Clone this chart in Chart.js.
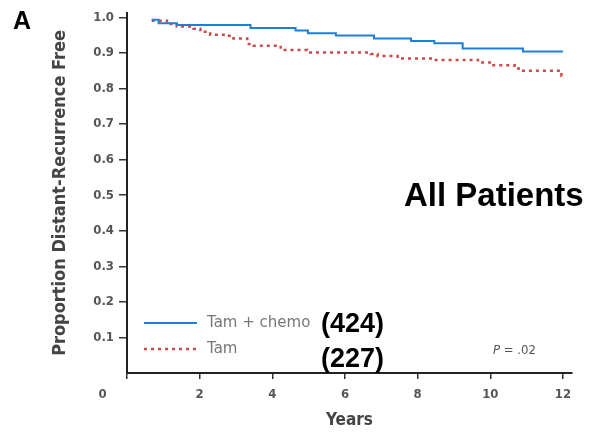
<!DOCTYPE html>
<html>
<head>
<meta charset="utf-8">
<script src="https://cdn.jsdelivr.net/npm/chart.js@4"></script>
<style>
  body { margin: 0; background: #fff; }
  #wrap { position: relative; width: 593px; height: 433px; }
  .note { position: absolute; font-family: "Liberation Sans", Arial, sans-serif; font-weight: bold; color: #000; white-space: nowrap; line-height: 1; }
</style>
</head>
<body>
<div id="wrap">
  <canvas id="km" width="593" height="433"></canvas>
  <div class="note" style="left:13px;top:8px;font-size:25px;">A</div>
  <div class="note" style="left:404px;top:178px;font-size:33px;">All Patients</div>
  <div class="note" style="left:321px;top:310px;font-size:27px;">(424)</div>
  <div class="note" style="left:321px;top:345px;font-size:27px;">(227)</div>
  <div class="note" style="left:493px;top:343px;font-size:13px;font-weight:normal;color:#555;font-family:'DejaVu Sans Condensed',sans-serif;"><i>P</i> = .02</div>
</div>
<script>
// Kaplan-Meier steps (years, proportion)
const chemoYears = [0.68, 0.87, 1.37, 3.40, 4.64, 4.98, 5.75, 6.80, 7.82, 8.46, 9.24, 10.90, 12.0];
const chemoFree  = [0.993, 0.983, 0.978, 0.970, 0.963, 0.955, 0.949, 0.940, 0.933, 0.927, 0.912, 0.904, 0.904];

const tamYears = [0.68, 1.10, 1.37, 1.83, 2.02, 2.29, 2.75, 2.93, 3.31, 3.49, 4.23, 4.96, 6.71, 6.90, 7.45, 8.46, 9.66, 10.03, 10.67, 10.85, 11.96, 12.0];
const tamFree  = [0.990, 0.981, 0.974, 0.968, 0.959, 0.951, 0.948, 0.940, 0.925, 0.920, 0.908, 0.901, 0.897, 0.891, 0.884, 0.880, 0.873, 0.865, 0.856, 0.850, 0.835, 0.835];

const xTicks = [0, 2, 4, 6, 8, 10, 12];
const yTicks = [0.1, 0.2, 0.3, 0.4, 0.5, 0.6, 0.7, 0.8, 0.9, 1.0];

const seriesNames = ['Tam + chemo', 'Tam'];

const toPts = (xs, ys) => xs.map((x, i) => ({x: x, y: ys[i]}));

const condensed = "'DejaVu Sans Condensed', 'Liberation Sans Narrow', sans-serif";

// legend drawn inside the plot, bottom left
const insideLegend = {
  id: 'insideLegend',
  afterDraw(chart) {
    const ctx = chart.ctx;
    const rows = [323, 349];
    ctx.save();
    chart.data.datasets.forEach((ds, i) => {
      const y = rows[i];
      ctx.beginPath();
      ctx.strokeStyle = ds.borderColor;
      ctx.lineWidth = ds.borderWidth;
      ctx.setLineDash(ds.borderDash || []);
      ctx.moveTo(144, y);
      ctx.lineTo(197, y);
      ctx.stroke();
      ctx.setLineDash([]);
      ctx.fillStyle = '#777';
      ctx.font = "15px 'DejaVu Sans', sans-serif";
      ctx.textBaseline = 'middle';
      ctx.fillText(ds.label, 207, y);
    });
    ctx.restore();
  }
};

new Chart(document.getElementById('km'), {
  type: 'line',
  data: {
    datasets: [
      {
        label: seriesNames[0],
        data: toPts(chemoYears, chemoFree),
        borderColor: '#1f7fd6',
        borderWidth: 2,
        stepped: true,
        pointRadius: 0,
        fill: false
      },
      {
        label: seriesNames[1],
        data: toPts(tamYears, tamFree),
        borderColor: '#cc4a4a',
        borderWidth: 2.5,
        borderDash: [3, 4],
        stepped: true,
        pointRadius: 0,
        fill: false
      }
    ]
  },
  options: {
    responsive: false,
    animation: false,
    layout: { padding: { top: 13, right: 21, left: 0, bottom: 0 } },
    plugins: { legend: { display: false }, tooltip: { enabled: false } },
    scales: {
      x: {
        type: 'linear',
        min: 0,
        max: 12.25,
        afterBuildTicks: s => { s.ticks = xTicks.map(v => ({value: v})); },
        afterFit: s => { s.height = 60; },
        grid: { display: true, drawOnChartArea: false, drawTicks: true, tickLength: 6, color: '#333', lineWidth: 1.5 },
        border: { display: true, color: '#222', width: 2 },
        ticks: {
          color: '#555',
          font: { family: condensed, size: 13, weight: 'bold' },
          padding: 8,
          maxRotation: 0,
          callback: v => v === 0 ? '0            ' : String(v)
        },
        title: {
          display: true,
          text: 'Years',
          color: '#444',
          font: { family: condensed, size: 17, weight: 'bold' },
          padding: { top: 0, bottom: 2 }
        }
      },
      y: {
        min: 0,
        max: 1.012,
        afterBuildTicks: s => { s.ticks = yTicks.map(v => ({value: v})); },
        afterFit: s => { s.width = 127; },
        grid: { display: true, drawOnChartArea: false, drawTicks: true, tickLength: 8, color: '#333', lineWidth: 1.5 },
        border: { display: true, color: '#222', width: 2 },
        ticks: {
          color: '#555',
          font: { family: condensed, size: 13, weight: 'bold' },
          padding: 5,
          callback: v => v.toFixed(1)
        },
        title: {
          display: true,
          text: 'Proportion Distant-Recurrence Free',
          color: '#444',
          font: { family: condensed, size: 18, weight: 'bold' },
          padding: { top: 50, bottom: 0 }
        }
      }
    }
  },
  plugins: [insideLegend]
});
</script>
</body>
</html>
